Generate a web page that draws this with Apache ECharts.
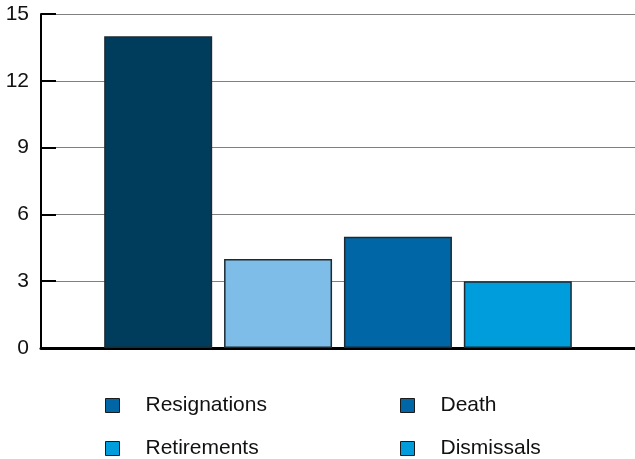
<!DOCTYPE html>
<html><head><meta charset="utf-8">
<script src="https://cdn.jsdelivr.net/npm/echarts@6/dist/echarts.min.js"></script>
<style>html,body{margin:0;padding:0;background:#fff}#c{width:635px;height:459px}</style>
</head><body><div id="c"></div>
<script>
const categories = [''];
const seriesNames = ['Resignations', 'Retirements', 'Death', 'Dismissals'];
const seriesValues = [14, 4, 5, 3];
const barColors = ['#003d5c', '#7dbde8', '#0066a6', '#009ddc'];
const legendColors = {Resignations: '#0066a6', Death: '#0066a6', Retirements: '#009ddc', Dismissals: '#009ddc'};
const yTicks = [0, 3, 6, 9, 12, 15];

const chart = echarts.init(document.getElementById('c'));
const legendPos = {Resignations: [105, 395], Death: [400, 395], Retirements: [105, 438], Dismissals: [400, 438]};
const FONT = 'Liberation Sans, Arial, Helvetica, sans-serif';
const legends = Object.keys(legendPos).map(n => ({
  left: legendPos[n][0], top: legendPos[n][1], padding: 0,
  itemWidth: 14, itemHeight: 14, itemGap: 0,
  icon: 'rect',
  data: [{name: n, itemStyle: {color: legendColors[n], borderColor: '#1b1b1b', borderWidth: 1}}],
  textStyle: {fontFamily: FONT, fontSize: 21, color: '#111', padding: [0, 0, 4, 21]}
}));
chart.setOption({
  animation: false,
  grid: {left: 41, width: 599, top: 14, bottom: 111},
  legend: legends,
  xAxis: {
    type: 'category', data: categories,
    axisLine: {lineStyle: {color: '#000', width: 3}},
    axisTick: {show: false}, axisLabel: {show: false}
  },
  yAxis: {
    type: 'value', min: yTicks[0], max: yTicks[yTicks.length - 1], interval: 3,
    axisLine: {show: true, lineStyle: {color: '#000', width: 2}},
    axisTick: {show: true, inside: true, length: 15, lineStyle: {color: '#000', width: 2}},
    axisLabel: {color: '#111', fontSize: 21, fontFamily: FONT, margin: 12, padding: [6, 0, 0, 0]},
    splitLine: {lineStyle: {color: '#808080', width: 1}}
  },
  series: seriesNames.map((n, i) => ({
    name: n, type: 'bar', data: [seriesValues[i]],
    barWidth: 108, barGap: '11%',
    itemStyle: {color: barColors[i], borderColor: '#1e2a33', borderWidth: 1.5}
  }))
});
</script></body></html>
